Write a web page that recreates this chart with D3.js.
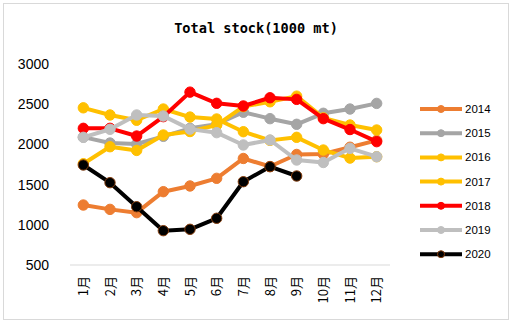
<!DOCTYPE html>
<html>
<head>
<meta charset="utf-8">
<script src="https://cdn.jsdelivr.net/npm/d3@7"></script>
<style>
  html, body { margin: 0; padding: 0; background: #fff; }
  svg { display: block; }
</style>
</head>
<body>
<svg id="chart" width="512" height="325"></svg>
<script>
// Monthly categories
const months = ["1月","2月","3月","4月","5月","6月","7月","8月","9月","10月","11月","12月"];
const yTicks = [500, 1000, 1500, 2000, 2500, 3000];

// Total stock per year (1000 mt)
const years = ["2014","2015","2016","2017","2018","2019","2020"];
const s2014 = [1246, 1192, 1151, 1412, 1483, 1578, 1825, 1725, 1875, 1880, 1965, 2050];
const s2015 = [2090, 2017, 2005, 2100, 2200, 2250, 2400, 2320, 2250, 2387, 2440, 2510];
const s2016 = [1760, 1971, 1925, 2117, 2160, 2240, 2470, 2530, 2600, 2330, 2241, 2179];
const s2017 = [2455, 2366, 2300, 2440, 2340, 2316, 2158, 2050, 2088, 1930, 1830, 1847];
const s2018 = [2200, 2200, 2104, 2345, 2650, 2511, 2478, 2580, 2560, 2320, 2185, 2034];
const s2019 = [2088, 2188, 2366, 2353, 2190, 2146, 1993, 2055, 1806, 1775, 1951, 1847];
const s2020 = [1744, 1524, 1225, 927, 944, 1081, 1536, 1723, 1607];

const seriesValues = [s2014, s2015, s2016, s2017, s2018, s2019, s2020];
const colors = ["#ED7D31", "#A5A5A5", "#FFC000", "#FFC000", "#FF0000", "#BFBFBF", "#000000"];
const markerStroke = ["#ED7D31", "#A5A5A5", "#FFC000", "#FFC000", "#FF0000", "#BFBFBF", "#843C0C"];

const svg = d3.select("#chart");

// Outer frame
svg.append("rect")
  .attr("x", 3.5).attr("y", 3.5)
  .attr("width", 505).attr("height", 316)
  .attr("fill", "#fff").attr("stroke", "#D9D9D9").attr("stroke-width", 1);

// Title
svg.append("text")
  .attr("x", 256).attr("y", 33)
  .attr("text-anchor", "middle")
  .attr("font-family", "'DejaVu Sans Mono', 'Liberation Mono', monospace")
  .attr("font-weight", "bold")
  .attr("font-size", 13.6)
  .attr("fill", "#000")
  .text("Total stock(1000 mt)");

const x = d3.scaleBand().domain(months).range([70, 390]);
const y = d3.scaleLinear().domain([500, 3000]).range([265, 64]);

// Y axis labels (no axis line)
const yAxis = svg.append("g")
  .attr("transform", "translate(49,0)")
  .call(d3.axisLeft(y).tickValues(yTicks).tickSize(0).tickPadding(0).tickFormat(d3.format("d")));
yAxis.select(".domain").remove();
yAxis.selectAll("text")
  .attr("font-family", "Arial, 'Liberation Sans', sans-serif")
  .attr("font-size", 14)
  .attr("fill", "#000");

// Baseline
svg.append("line")
  .attr("x1", 70).attr("x2", 390)
  .attr("y1", y(500)).attr("y2", y(500))
  .attr("stroke", "#D9D9D9").attr("stroke-width", 1);

// X axis labels, rotated
const xAxis = svg.append("g")
  .attr("transform", `translate(0,${y(500)})`)
  .call(d3.axisBottom(x).tickSize(0).tickPadding(0));
xAxis.select(".domain").remove();
xAxis.selectAll("text")
  .attr("font-family", "'Noto Sans CJK SC', Arial, sans-serif")
  .attr("font-size", 13)
  .attr("fill", "#000")
  .attr("text-anchor", "end")
  .attr("dy", "0.35em")
  .attr("transform", "translate(0,11) rotate(-90)")
  .attr("x", 0).attr("y", 0);

const line = d3.line()
  .x((d, i) => x(months[i]) + x.bandwidth() / 2)
  .y(d => y(d));

const plot = svg.append("g");
seriesValues.forEach((vals, k) => {
  const g = plot.append("g");
  g.append("path")
    .datum(vals)
    .attr("fill", "none")
    .attr("stroke", colors[k])
    .attr("stroke-width", 4)
    .attr("stroke-linejoin", "round")
    .attr("d", line);
  g.selectAll("circle")
    .data(vals)
    .join("circle")
    .attr("cx", (d, i) => x(months[i]) + x.bandwidth() / 2)
    .attr("cy", d => y(d))
    .attr("r", 5.2)
    .attr("fill", colors[k])
    .attr("stroke", markerStroke[k])
    .attr("stroke-width", 1);
});

// Legend
const legend = svg.append("g");
years.forEach((yr, k) => {
  const ly = 109 + k * 24.2;
  legend.append("line")
    .attr("x1", 420).attr("x2", 462)
    .attr("y1", ly).attr("y2", ly)
    .attr("stroke", colors[k]).attr("stroke-width", 4);
  legend.append("circle")
    .attr("cx", 441).attr("cy", ly).attr("r", 3.5)
    .attr("fill", colors[k]).attr("stroke", markerStroke[k]).attr("stroke-width", 1);
  legend.append("text")
    .attr("x", 465).attr("y", ly).attr("dy", "0.35em")
    .attr("font-family", "Arial, 'Liberation Sans', sans-serif")
    .attr("font-size", 11.5)
    .attr("fill", "#000")
    .text(yr);
});
</script>
</body>
</html>
